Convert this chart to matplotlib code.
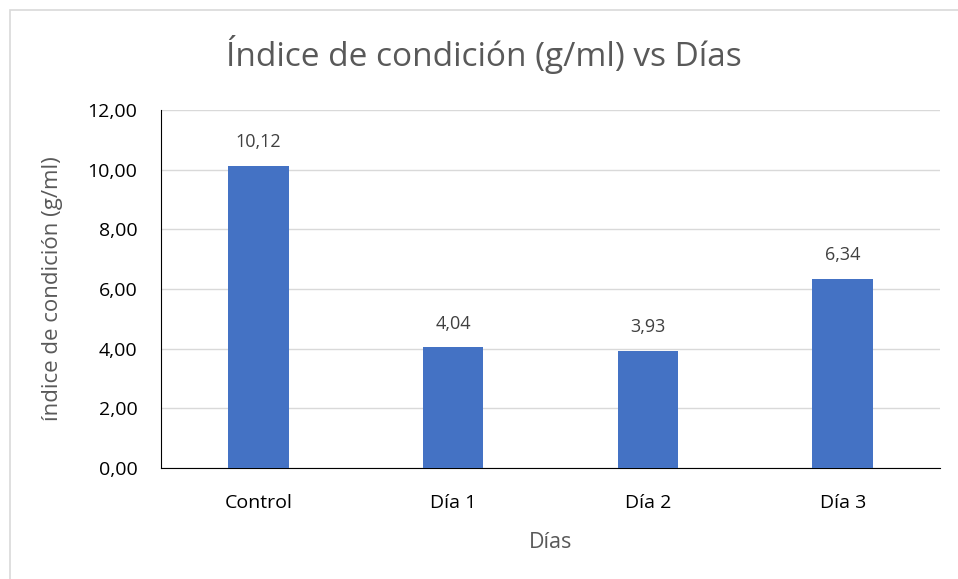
import matplotlib.pyplot as plt
from matplotlib.patches import Rectangle
from matplotlib.ticker import FuncFormatter

# Data
categories = ["Control", "Día 1", "Día 2", "Día 3"]
values = [10.12, 4.04, 3.93, 6.34]
bar_labels = ["10,12", "4,04", "3,93", "6,34"]

W, H = 958, 579
fig = plt.figure(figsize=(W / 100, H / 100), dpi=100)
plt.rcParams['font.family'] = ['Open Sans', 'DejaVu Sans']

# chart frame (Excel style)
fig.patches.append(Rectangle((10 / W, -0.05), 1.1, 1 - 10 / H + 0.05, transform=fig.transFigure,
                             fill=False, edgecolor='#d9d9d9', linewidth=1.2))

ax = fig.add_axes([161 / W, 1 - 468 / H, (940 - 161) / W, (468 - 110) / H])
x = range(len(categories))
ax.bar(x, values, width=0.31, color='#4472c4', zorder=3)
for i, v in enumerate(values):
    ax.text(i, v + 0.5, bar_labels[i], ha='center', va='bottom', fontsize=13, color='#404040')

ax.set_xlim(-0.5, len(categories) - 0.5)
ax.set_ylim(0, 12)
ax.set_yticks(range(0, 13, 2))
ax.yaxis.set_major_formatter(FuncFormatter(lambda v, p: f"{v:.2f}".replace('.', ',')))
ax.set_xticks(list(x))
ax.set_xticklabels(categories)
ax.tick_params(axis='both', length=0, labelsize=14, labelcolor='black')
ax.tick_params(axis='x', pad=19)
ax.tick_params(axis='y', pad=17)
ax.grid(axis='y', color='#d9d9d9', linewidth=1, zorder=0)
for s in ['top', 'right']:
    ax.spines[s].set_visible(False)
ax.spines['left'].set_color('black')
ax.spines['bottom'].set_color('black')

ax.set_xlabel("Días", fontsize=15.5, color='#595959', labelpad=14)
ax.set_ylabel("índice de condición (g/ml)", fontsize=16, color='#595959', labelpad=18)
fig.text(0.5 + 10 / W / 2, 1 - 55 / H, "Índice de condición (g/ml) vs Días", ha='center', va='center',
         fontsize=24, color='#595959')

fig.savefig("out.png", dpi=100)
